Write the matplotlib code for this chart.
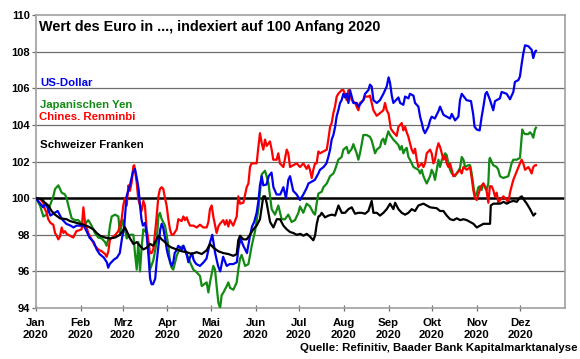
import matplotlib
matplotlib.use('Agg')
import matplotlib.pyplot as plt
import numpy as np

plt.rcParams['font.family'] = ['Liberation Sans', 'DejaVu Sans']
plt.rcParams['font.weight'] = 'bold'

# Tage seit 1.1.2020 und Indexwerte (Anfang 2020 = 100)
usd_tag = [0, 3, 5, 7, 10, 12, 15, 18, 21, 24, 26, 28, 33, 35, 37, 40, 42, 44, 47, 49, 50, 51, 54, 56, 58, 59.5, 61,
           62.7, 65, 67, 68.5, 70, 71, 72, 73, 74, 75.5, 76.5, 78, 79, 80, 81, 82.5, 83.5, 85, 86, 87, 88, 89.5, 90.5,
           91.5, 93, 94, 95, 96, 97.5, 98.5, 101, 102, 103, 104.5, 105.5, 106.5, 108, 109, 110, 111, 113.5, 116, 118,
           120.5, 122, 124, 126, 127.5, 129.5, 132, 134, 136.5, 139, 140, 141.5, 143.5, 146, 148, 149.5, 151, 152.7,
           154, 155, 156.2, 157.3, 159.6, 161, 163, 164.3, 166.5, 169, 171.2, 173, 174.6, 175.8, 178, 180.4, 182.7,
           185, 187.3, 188.5, 190.8, 193, 195.4, 196.5, 199, 201, 202.3, 203.5, 204.6, 205.8, 207, 208, 209.2, 210.4,
           211.5, 212.7, 213.8, 215, 216.2, 217.3, 218.5, 219.6, 222, 223, 226.5, 227.7, 230, 231.1, 232.3, 233.5,
           235.8, 238, 240.4, 242.7, 244, 245, 246.2, 247.3, 250.8, 252, 254.2, 255.4, 257.7, 258.8, 261.2, 262.3,
           264.6, 265.8, 267, 268, 269.2, 271.5, 272.7, 273.8, 276, 278.5, 279.6, 282, 284.2, 286.5, 287.7, 290,
           292.3, 293.4, 294.6, 298, 301, 302.5, 303.5, 305, 307, 308.4, 309.6, 311, 312, 314, 316.4, 317.6, 321,
           322.2, 325.7, 328, 330.3, 331.4, 333.8, 334.9, 336.1, 337.2, 338.4, 340.7, 343, 344.1, 345.3, 346]
usd_wert = [100.0, 99.7, 99.5, 99.7, 99.05, 99.15, 99.3, 98.85, 98.6, 98.5, 98.4, 98.5, 98.5, 98.2, 97.85, 97.6, 97.2,
            96.95, 96.75, 96.5, 96.2, 96.4, 96.65, 96.75, 97.0, 97.8, 98.4, 100.1, 100.7, 101.4, 101.6, 101.0, 100.5,
            99.6, 98.85, 98.5, 98.65, 98.1, 96.7, 95.6, 95.3, 95.3, 95.6, 96.5, 97.6, 98.3, 98.6, 98.4, 97.75, 97.2,
            96.85, 96.5, 96.3, 96.5, 97.0, 97.2, 97.4, 97.2, 97.4, 97.2, 96.85, 96.5, 96.75, 97.0, 96.65, 96.5, 96.4,
            96.3, 96.5, 96.7, 97.6, 98.0, 97.0, 96.3, 96.0, 96.8, 96.3, 96.4, 96.4, 96.5, 97.2, 97.8, 97.4, 97.0,
            97.9, 98.45, 98.7, 99.2, 99.9, 100.7, 101.2, 100.7, 100.75, 101.2, 101.4, 100.6, 100.2, 100.2, 100.6,
            100.0, 101.0, 101.2, 100.4, 100.2, 99.9, 100.2, 100.55, 100.8, 100.9, 101.0, 101.35, 101.55, 101.7, 101.9,
            102.25, 102.65, 103.2, 103.45, 103.9, 104.45, 104.8, 105.2, 105.35, 105.7, 105.5, 105.7, 105.2, 105.9,
            105.55, 105.2, 105.2, 105.0, 105.35, 105.7, 105.9, 106.2, 106.1, 105.35, 105.2, 105.35, 105.7, 106.1,
            106.6, 106.3, 105.6, 105.2, 105.5, 105.2, 105.1, 105.55, 105.45, 105.7, 105.6, 105.2, 105.0, 104.45,
            104.1, 103.75, 103.55, 103.9, 104.25, 104.45, 104.35, 104.75, 105.0, 104.55, 104.45, 104.35, 104.6,
            104.25, 104.45, 105.35, 105.7, 105.35, 105.3, 104.6, 103.9, 103.75, 103.7, 104.45, 105.0, 105.7, 105.8,
            105.4, 104.8, 105.3, 105.45, 105.8, 105.7, 105.4, 105.8, 106.35, 106.45, 106.65, 107.35, 107.9, 108.35,
            108.3, 108.1, 107.65, 108.0, 108.05]

jpy_tag = [0, 2.8, 5.1, 7.4, 9.7, 12, 13.2, 15.5, 17.8, 20.1, 21.2, 22.4, 24.7, 27, 29.3, 31.6, 34, 36.2, 38.5, 40.8,
           43.1, 45.5, 47.8, 48.9, 50.1, 51.2, 52.4, 54.7, 57, 58.1, 59.3, 60.4, 62.8, 65.1, 67.4, 68.5, 69.7, 70.8,
           72, 73.1, 74.3, 76.6, 77.8, 78.9, 81.2, 83.5, 84.7, 85.8, 87, 89.3, 90.4, 91.6, 92.7, 93.9, 95, 97.4, 99.7,
           102, 104.3, 106.6, 108.9, 111.2, 113.5, 114.7, 118.1, 119.3, 120.4, 122.7, 123.9, 125, 126.2, 127.4,
           128.5, 129.7, 132, 133.1, 134.3, 136.6, 138.9, 140, 141.2, 142.3, 144.7, 147, 149.3, 151.6, 153.9, 156.2,
           158.5, 160.8, 163.1, 165.4, 167.7, 170, 172.3, 174.6, 176.9, 179.2, 181.6, 182.7, 185, 187.3, 189.6,
           191.9, 193.1, 194.2, 195.4, 197.7, 198.9, 201.2, 203.5, 205.8, 206.9, 209.2, 211.5, 212.7, 215, 216.2,
           218.5, 219.6, 221.9, 223.1, 224.2, 225.4, 226.5, 228.8, 231.1, 232.3, 233.5, 234.6, 235.8, 238.1, 239.2,
           240.4, 241.5, 242.7, 243.8, 245, 247.3, 250.8, 251.9, 253.1, 254.2, 255.4, 256.5, 257.7, 258.8, 260,
           261.2, 264.6, 265.8, 266.9, 268.1, 269.2, 270.4, 271.5, 272.7, 273.8, 275, 276.1, 277.3, 278.5, 279.6,
           280.8, 281.9, 283.1, 284.2, 285.4, 286.5, 287.7, 290, 291.1, 293.4, 294.6, 295.8, 296.9, 299.2, 300.4,
           301.5, 302.7, 303.8, 305, 306.1, 307.2, 308.4, 309.5, 310.7, 311.8, 313, 313.7, 314.1, 316.4, 318.8,
           319.9, 321.1, 323.4, 326.8, 328, 329.1, 330.3, 332.6, 334.9, 336.1, 336.5, 337.2, 338.4, 340.7, 341.8,
           343, 344.1, 345.3, 346]
jpy_wert = [100.0, 99.6, 99.0, 99.1, 99.6, 100.1, 100.5, 100.7, 100.3, 100.2, 100.0, 99.6, 98.9, 98.8, 98.8, 98.6,
            98.6, 98.8, 98.5, 98.1, 97.85, 97.8, 97.6, 97.4, 97.8, 98.5, 99.0, 99.1, 99.0, 98.1, 98.5, 98.8, 97.8,
            98.0, 98.0, 97.0, 96.1, 97.6, 96.0, 97.3, 98.3, 98.1, 97.4, 96.1, 96.6, 97.6, 99.0, 99.2, 98.85, 98.5,
            98.0, 97.4, 96.5, 96.2, 96.1, 96.85, 97.3, 97.4, 96.95, 96.5, 96.1, 95.95, 95.75, 95.2, 95.4, 94.85,
            95.4, 96.3, 96.1, 95.2, 94.3, 94.0, 94.7, 94.85, 95.2, 95.4, 95.1, 95.0, 95.4, 96.1, 96.7, 96.9, 96.3,
            96.4, 97.4, 98.2, 99.4, 101.3, 101.5, 100.85, 99.4, 99.1, 99.6, 98.85, 98.85, 99.1, 98.7, 98.8, 99.2,
            99.55, 99.2, 99.7, 99.55, 99.2, 99.1, 99.7, 100.25, 100.35, 100.6, 100.8, 101.2, 101.35, 101.55, 102.1,
            102.25, 102.65, 102.8, 102.45, 102.7, 102.95, 102.45, 102.1, 102.45, 102.95, 103.45, 103.45, 103.35,
            103.15, 102.8, 102.45, 102.65, 102.8, 103.15, 103.25, 102.95, 103.35, 103.65, 103.45, 103.2, 102.9,
            102.65, 102.85, 102.45, 102.65, 102.75, 102.25, 102.1, 101.9, 101.7, 101.55, 101.35, 101.55, 101.2,
            101.0, 100.8, 101.0, 101.2, 101.55, 101.35, 101.0, 101.55, 102.1, 101.7, 102.1, 102.25, 102.45, 102.35,
            101.9, 101.55, 101.35, 101.2, 101.35, 101.65, 102.25, 102.1, 101.7, 101.8, 101.8, 101.35, 100.65, 100.1,
            100.25, 100.6, 100.65, 100.45, 100.8, 100.65, 100.45, 100.8, 102.1, 102.2, 101.8, 101.7, 101.55, 101.2,
            101.1, 101.2, 101.55, 101.9, 102.1, 102.1, 102.2, 103.35, 103.75, 103.6, 103.5, 103.5, 103.6, 103.5,
            103.3, 103.75, 103.85]

cny_tag = [0, 3, 5, 6.2, 7.4, 8.5, 10, 12, 13.2, 14.3, 15.5, 16.6, 17.8, 19, 20.1, 21.2, 23.5, 25.8, 28, 30, 31.6,
           32.8, 33.9, 36.2, 38.5, 40.8, 43.1, 45.5, 47.8, 48.9, 50.1, 51.2, 53.5, 55, 57, 59.3, 60.4, 61.6, 62.8, 64,
           65, 66.2, 67.4, 68, 69.7, 70.8, 72, 73.1, 74.3, 75.4, 76.6, 77.7, 78.9, 80, 81.2, 82.4, 83.5, 84.7, 85.8,
           87, 88.1, 89.3, 90.4, 91.6, 92.7, 93.9, 95, 97.4, 98.5, 100.8, 102, 103.1, 104.3, 105.4, 106.6, 108.9,
           111.2, 113.5, 115.8, 118.1, 119.3, 120.4, 121.6, 122.7, 125, 126.2, 127.3, 129.6, 130.8, 131.9, 133.1,
           134.2, 136.5, 138.9, 140, 141.2, 143.5, 145.8, 147, 148.1, 149.2, 152.7, 153.9, 155, 156.2, 157.3, 158.5,
           159.6, 161.9, 163.1, 164.2, 166.5, 167.7, 168.8, 171.2, 173.5, 174.6, 175.8, 178, 180.4, 182.7, 185,
           187.3, 188.5, 189.6, 190.8, 191.9, 193.1, 194.2, 195.4, 196.5, 198.9, 201.2, 202.3, 203.5, 204.6, 205.8,
           206.9, 208.1, 209.2, 210.4, 211.5, 212.7, 213.8, 215, 216.2, 217.3, 218.5, 220.8, 221.9, 223.1, 224.2,
           226.5, 227.7, 230, 231.1, 232.3, 233.5, 234.6, 235.8, 238.1, 240.4, 241.5, 242.7, 244, 245.5, 247.3,
           249.6, 250.8, 253.1, 254.2, 255.4, 256.5, 257.7, 258.8, 260, 261.2, 262.3, 263.5, 264.6, 266.9, 268.1,
           269.2, 270.4, 272.7, 273.8, 275, 276.1, 277.3, 278.5, 279.6, 280.8, 281.9, 283.1, 284.2, 285.4, 286.5,
           287.7, 288.8, 291.1, 293.4, 294.6, 295.8, 298.1, 300.4, 301.5, 302.7, 303.8, 305, 306.1, 307.3, 308.4,
           309.6, 311.8, 313, 313.7, 314.1, 315.3, 316.4, 317.6, 318.8, 319.9, 321.1, 323.4, 325.7, 326.8, 328,
           329.1, 330.3, 332.6, 334.9, 336.1, 337.2, 338.4, 340.7, 341.8, 343, 344.1, 345.3, 346]
cny_wert = [100.0, 99.95, 99.75, 99.4, 99.2, 98.85, 98.65, 98.55, 98.1, 97.95, 97.75, 97.9, 98.4, 98.1, 98.2, 98.05,
            97.95, 97.85, 98.2, 98.25, 98.3, 99.5, 98.7, 98.1, 97.75, 97.4, 97.2, 97.1, 96.95, 96.8, 97.1, 97.75,
            97.9, 98.0, 98.2, 98.85, 99.6, 100.0, 99.6, 100.7, 100.4, 100.85, 101.75, 101.8, 100.85, 99.95, 99.6,
            99.3, 99.85, 99.6, 98.3, 97.75, 97.0, 97.0, 97.2, 98.1, 99.0, 100.1, 100.5, 100.6, 100.5, 100.0, 99.6,
            98.85, 98.3, 98.0, 98.0, 98.3, 98.85, 98.75, 99.0, 98.8, 98.95, 98.7, 98.5, 98.5, 98.4, 98.55, 98.4,
            98.4, 98.7, 99.4, 99.6, 99.0, 98.1, 98.45, 98.6, 98.8, 98.55, 98.8, 98.45, 98.8, 98.5, 99.0, 100.1, 99.7,
            99.75, 100.6, 100.8, 101.7, 101.9, 101.9, 102.8, 103.55, 103.0, 102.65, 103.2, 102.85, 103.1, 102.65,
            102.1, 102.1, 102.45, 101.9, 101.7, 102.65, 102.45, 101.7, 101.8, 101.9, 101.7, 101.9, 101.6, 101.8,
            101.55, 101.1, 101.55, 101.9, 101.9, 102.55, 102.45, 102.55, 102.65, 103.2, 103.9, 104.1, 104.65, 105.0,
            105.55, 105.7, 105.8, 105.9, 105.9, 105.7, 105.35, 105.9, 105.7, 105.35, 105.2, 105.0, 104.8, 105.2,
            105.35, 105.55, 105.55, 105.6, 105.2, 104.8, 104.65, 104.5, 104.65, 104.8, 105.2, 104.8, 104.6, 103.8,
            103.6, 103.4, 103.9, 104.1, 103.7, 103.9, 103.6, 103.35, 103.0, 102.65, 102.45, 102.7, 102.1, 101.7,
            101.9, 101.7, 101.9, 102.45, 102.65, 102.45, 101.9, 102.1, 102.65, 103.0, 102.8, 102.45, 102.1, 102.3,
            101.9, 101.7, 101.9, 101.55, 101.2, 101.35, 101.55, 101.35, 101.7, 101.55, 101.7, 101.1, 100.4, 100.0,
            99.9, 100.2, 100.5, 100.7, 100.8, 100.4, 99.75, 100.3, 100.65, 100.65, 100.45, 100.1, 100.3, 99.75, 99.9,
            100.1, 99.9, 99.75, 100.3, 100.65, 101.0, 101.45, 101.9, 102.1, 101.9, 101.55, 101.7, 101.55, 101.35,
            101.7, 101.8, 101.8]

chf_tag = [0, 3.9, 6.2, 8.5, 10.8, 13.2, 16.6, 21.2, 23.5, 25.8, 30.5, 32.8, 36.2, 39.7, 42, 44.3, 47.8, 51.2, 54.7,
           58.1, 61.6, 62.8, 65.1, 67.4, 69.7, 72, 74.3, 76.6, 78.9, 81.2, 84.7, 87, 89.3, 91.6, 93.9, 97.4, 100.8,
           104.3, 107.7, 111.2, 114.7, 118.1, 120.4, 122.7, 126.2, 129.7, 133.1, 136.6, 138.9, 140, 141.2, 143.5,
           145.8, 148.1, 150.4, 152.7, 155, 157.3, 158.5, 159.6, 162, 164.3, 166.6, 168.9, 171.2, 173.5, 175.8, 178,
           180.4, 183, 185, 187.4, 189.6, 191.9, 193.1, 194.3, 195.5, 196.6, 197.7, 200, 202.4, 204.7, 207, 209.3,
           211.6, 213.9, 216.2, 218.5, 220.8, 223, 225.4, 227.7, 230, 232.3, 233.5, 235.8, 238.1, 240.4, 242.7, 245,
           247.3, 248.5, 250.8, 253.1, 255.4, 257.7, 260, 262.3, 264.6, 268.1, 270.4, 272.7, 277.3, 279.6, 281.9,
           284.2, 286.6, 288.9, 291.2, 293.5, 295.8, 298.1, 300.4, 302.7, 305, 307.3, 309.6, 314.2, 314.7, 316.5,
           321.2, 323.5, 325.8, 328.1, 330.4, 332.7, 335, 336.2, 337.3, 339.6, 341.9, 344.2, 345.4]
chf_wert = [100.0, 99.95, 99.75, 99.6, 99.3, 99.1, 98.9, 98.85, 98.75, 98.7, 98.6, 98.55, 98.45, 98.3, 98.1, 97.95,
            97.85, 97.8, 97.85, 98.0, 98.4, 98.2, 97.8, 97.5, 97.6, 97.4, 97.2, 97.3, 97.5, 97.4, 97.95, 97.75, 97.6,
            97.4, 97.3, 97.2, 97.1, 97.05, 96.95, 97.05, 96.95, 97.15, 97.5, 97.3, 97.1, 97.0, 96.95, 96.85, 96.95,
            97.7, 97.95, 97.75, 97.75, 98.0, 98.3, 98.5, 98.85, 100.1, 100.1, 99.75, 98.7, 98.4, 98.85, 98.85, 98.5,
            98.3, 98.15, 98.1, 98.0, 98.05, 97.95, 98.05, 97.9, 97.7, 97.95, 98.6, 99.0, 99.05, 99.2, 98.95, 99.05,
            99.1, 99.05, 99.6, 99.2, 99.2, 99.4, 99.5, 99.15, 99.2, 99.2, 99.15, 99.3, 99.85, 99.2, 99.2, 99.05,
            99.2, 99.4, 99.7, 99.4, 99.75, 99.4, 99.2, 99.1, 99.2, 99.4, 99.3, 99.6, 99.7, 99.6, 99.5, 99.45, 99.3,
            99.3, 99.05, 98.85, 98.8, 98.9, 98.8, 98.85, 98.8, 98.7, 98.6, 98.4, 98.5, 98.6, 98.6, 99.6, 99.7, 99.7,
            99.8, 99.7, 99.8, 99.85, 99.8, 100.05, 100.1, 99.95, 99.7, 99.4, 99.05, 99.15]

monat_tag = [0, 31, 60, 91, 121, 152, 182, 213, 244, 274, 305, 335]
monat_name = ['Jan', 'Feb', 'Mrz', 'Apr', 'Mai', 'Jun', 'Jul', 'Aug', 'Sep', 'Okt', 'Nov', 'Dez']

fig = plt.figure(figsize=(5.8, 3.59), dpi=100)
ax = fig.add_axes([0.062, 0.142, 0.912, 0.816])

for y in [96, 98, 102, 104, 106, 108]:
    ax.axhline(y, color='#6e6e6e', lw=0.9, zorder=1)
ax.axhline(100, color='black', lw=1.8, zorder=2)

ax.plot(jpy_tag, jpy_wert, color='#138a13', lw=1.6, zorder=3)
ax.plot(cny_tag, cny_wert, color='#ff0000', lw=1.6, zorder=4)
ax.plot(usd_tag, usd_wert, color='#0000ee', lw=1.6, zorder=5)
ax.plot(chf_tag, chf_wert, color='black', lw=1.6, zorder=6)

ax.set_xlim(0, 366)
ax.set_ylim(94, 110)
ax.set_yticks(np.arange(94, 111, 2))
ax.set_xticks(monat_tag)
ax.set_xticklabels([m + '\n2020' for m in monat_name], fontsize=8.2, fontweight='bold', linespacing=1.3)
ax.tick_params(axis='y', labelsize=8, length=3, width=0.9, color='#6e6e6e', pad=1.5)
ax.tick_params(axis='x', direction='inout', length=5, width=0.9, color='#6e6e6e', pad=4.5)
for s in ax.spines.values():
    s.set_color('#a0a0a0')
    s.set_linewidth(1.2)

ax.text(0.006, 0.959, 'Wert des Euro in ..., indexiert auf 100 Anfang 2020', transform=ax.transAxes,
        fontsize=10.4, fontweight='bold', va='center', ha='left')
ax.text(0.009, 0.768, 'US-Dollar', color='#0000ee', transform=ax.transAxes, fontsize=8.2, va='center')
ax.text(0.007, 0.693, 'Japanischen Yen', color='#138a13', transform=ax.transAxes, fontsize=8.2, va='center')
ax.text(0.005, 0.652, 'Chines. Renminbi', color='#ff0000', transform=ax.transAxes, fontsize=8.2, va='center')
ax.text(0.007, 0.555, 'Schweizer Franken', color='black', transform=ax.transAxes, fontsize=8.2, va='center')

fig.text(0.995, 0.031, 'Quelle: Refinitiv, Baader Bank Kapitalmarktanalyse', ha='right', va='center',
         fontsize=8.2, fontweight='bold')

fig.savefig('out.png', dpi=100)
